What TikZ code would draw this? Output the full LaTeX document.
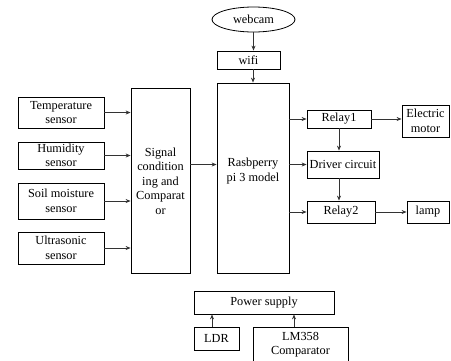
\documentclass[tikz,border=0pt]{standalone}
\usepackage{fontspec}
\setmainfont{Liberation Serif}
\usetikzlibrary{arrows.meta,shapes.geometric,calc}
\begin{document}
\begin{tikzpicture}[x=1pt,y=-1pt,
  box/.style={draw,line width=0.8pt,inner sep=1pt,align=center,font=\fontsize{12.3}{14.5}\selectfont},
  txt/.style={align=center,inner sep=0pt,font=\fontsize{12.3}{14.5}\selectfont},
  arr/.style={draw=black!80,line width=0.8pt,-{Stealth[length=5pt,width=4pt]}}]
\useasboundingbox (0,0) rectangle (451,360);
\node[box,minimum width=86pt,minimum height=31pt] (temp) at (61,112.5) {Temperature\\sensor};
\node[box,minimum width=86pt,minimum height=27pt] (hum) at (61,155.5) {Humidity\\sensor};
\node[box,minimum width=86pt,minimum height=36pt] (soil) at (61,201) {Soil moisture\\sensor};
\node[box,minimum width=86pt,minimum height=32pt] (ultra) at (61,248) {Ultrasonic\\sensor};
\node[box,minimum width=59pt,minimum height=185pt] (sig) at (160.5,180.5) {};
\node[txt] (sigtext) at (160.5,181) {Signal\\condition\\ing and\\Comparat\\or};
\node[box,minimum width=72pt,minimum height=190pt] (rasp) at (253,178) {};
\node[txt] (rasptext) at (253,171) {Rasbperry\\pi 3 model};
\node[box,ellipse,minimum width=83pt,minimum height=25pt] (cam) at (253.5,19.5) {webcam};
\node[box,minimum width=63pt,minimum height=18pt] (wifi) at (248.5,60) {wifi};
\node[box,minimum width=64pt,minimum height=18pt] (relay1) at (339,119) {Relay1};
\node[box,minimum width=47pt,minimum height=32pt] (motor) at (425.5,121) {Electric\\motor};
\node[box,minimum width=72pt,minimum height=27pt] (driver) at (343,164.5) {Driver circuit};
\node[box,minimum width=68pt,minimum height=22pt] (relay2) at (341,212) {Relay2};
\node[box,minimum width=42pt,minimum height=22pt] (lamp) at (428,212) {lamp};
\node[box,minimum width=140pt,minimum height=23pt] (power) at (264,302.5) {Power supply};
\node[box,minimum width=45pt,minimum height=23pt] (ldr) at (216.5,338.5) {LDR};
\node[box,minimum width=95pt,minimum height=40pt,anchor=north] (lm) at (300.5,327) {};
\node[txt] (lmtext) at (300.5,344.5) {LM358\\Comparator};
\draw[arr] (temp.east) -- (temp.east -| sig.west);
\draw[arr] (hum.east) -- (hum.east -| sig.west);
\draw[arr] (soil.east) -- (soil.east -| sig.west);
\draw[arr] (ultra.east) -- (ultra.east -| sig.west);
\draw[arr] (sig.east |- driver) -- (rasp.west |- driver);
\draw[arr] (cam.south) -- (cam.south |- wifi.north);
\draw[arr] (wifi.south -| rasp.north) -- (rasp.north);
\draw[arr] (rasp.east |- relay1) -- (relay1.west);
\draw[arr] (rasp.east |- driver) -- (driver.west);
\draw[arr] (rasp.east |- relay2) -- (relay2.west);
\draw[arr] (relay1.east) -- (relay1.east -| motor.west);
\draw[arr] (relay2.east) -- (lamp.west);
\draw[arr] (relay1.south) -- (relay1.south |- driver.north);
\draw[arr] (driver.south -| relay1) -- (relay2.north -| relay1);
\draw[arr] ($(ldr.north)+(-4.5,0)$) -- ($(ldr.north |- power.south)+(-4.5,0)$);
\draw[arr] ($(lm.north)+(-6.5,0)$) -- ($(lm.north |- power.south)+(-6.5,0)$);
\end{tikzpicture}
\end{document}
